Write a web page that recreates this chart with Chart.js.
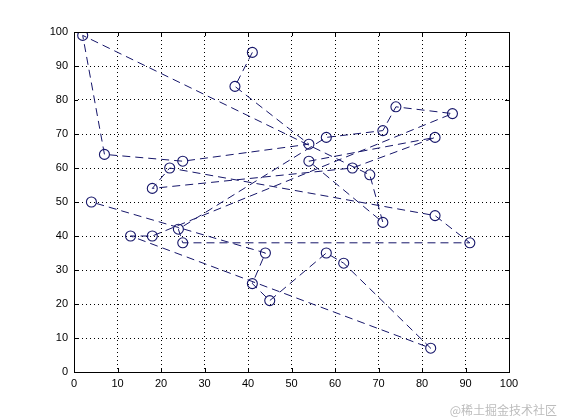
<!DOCTYPE html>
<html>
<head>
<meta charset="utf-8">
<script src="https://cdn.jsdelivr.net/npm/chart.js"></script>
<style>
  html, body { margin: 0; padding: 0; background: #fff; }
  #wrap { width: 561px; height: 420px; }
</style>
</head>
<body>
<div id="wrap"><canvas id="routeChart" width="561" height="420"></canvas></div>
<script>
// city coordinates, plotted in visiting order
const cityX = [41, 37, 54, 25, 7, 2, 68, 71, 54, 83, 64, 18, 22, 83, 91, 25, 24, 58, 71, 74, 87, 18, 13, 82, 62, 58, 45, 41, 44, 4];
const cityY = [94, 84, 67, 62, 64, 99, 58, 44, 62, 69, 60, 54, 60, 46, 38, 38, 42, 69, 71, 78, 76, 40, 40, 7, 32, 35, 21, 26, 35, 50];
const xTicks = [0, 10, 20, 30, 40, 50, 60, 70, 80, 90, 100];
const yTicks = [0, 10, 20, 30, 40, 50, 60, 70, 80, 90, 100];
const watermark = '@稀土掘金技术社区';

const lineColor = '#16166a';

// box + inward ticks like matlab axes, plus watermark
const axesBox = {
    id: 'axesBox',
    afterDraw(chart) {
        const ctx = chart.ctx;
        const a = chart.chartArea;
        const xs = chart.scales.x, ys = chart.scales.y;
        ctx.save();
        ctx.strokeStyle = '#000';
        ctx.lineWidth = 1;
        ctx.beginPath();
        xTicks.forEach(v => {
            const px = Math.round(xs.getPixelForValue(v)) + 0.5;
            ctx.moveTo(px, a.bottom); ctx.lineTo(px, a.bottom - 4);
            ctx.moveTo(px, a.top); ctx.lineTo(px, a.top + 4);
        });
        yTicks.forEach(v => {
            const py = Math.round(ys.getPixelForValue(v)) + 0.5;
            ctx.moveTo(a.left, py); ctx.lineTo(a.left + 4, py);
            ctx.moveTo(a.right, py); ctx.lineTo(a.right - 4, py);
        });
        ctx.stroke();
        ctx.strokeRect(Math.round(a.left) + 0.5, Math.round(a.top) + 0.5,
            Math.round(a.right - a.left), Math.round(a.bottom - a.top));
        ctx.fillStyle = '#bcbcbc';
        ctx.font = '12px "Noto Sans CJK SC"';
        ctx.textAlign = 'right';
        ctx.textBaseline = 'middle';
        ctx.fillText(watermark, 557, 410);
        ctx.restore();
    }
};

const ctx = document.getElementById('routeChart').getContext('2d');
new Chart(ctx, {
    type: 'scatter',
    data: {
        datasets: [{
            data: cityX.map((x, i) => ({ x: x, y: cityY[i] })),
            showLine: true,
            borderColor: lineColor,
            borderWidth: 1,
            borderDash: [8, 5],
            pointStyle: 'circle',
            pointRadius: 5,
            pointBorderWidth: 1.1,
            pointBorderColor: lineColor,
            pointBackgroundColor: 'rgba(0,0,0,0)',
            tension: 0
        }]
    },
    options: {
        responsive: false,
        animation: false,
        layout: { padding: { left: 0, right: 52, top: 32, bottom: 0 } },
        plugins: {
            legend: { display: false },
            tooltip: { enabled: false }
        },
        scales: {
            x: {
                type: 'linear',
                min: 0, max: 100,
                afterBuildTicks: s => { s.ticks = xTicks.map(v => ({ value: v })); },
                afterFit: s => { s.height = 48; },
                grid: { color: '#000', lineWidth: 1, drawTicks: false },
                border: { display: false, dash: [1, 3] },
                ticks: { color: '#000', padding: 5, font: { family: 'Liberation Sans, Arial', size: 11 }, maxRotation: 0 }
            },
            y: {
                type: 'linear',
                min: 0, max: 100,
                afterBuildTicks: s => { s.ticks = yTicks.map(v => ({ value: v })); },
                afterFit: s => { s.width = 74; },
                grid: { color: '#000', lineWidth: 1, drawTicks: false },
                border: { display: false, dash: [1, 3] },
                ticks: { color: '#000', padding: 6, font: { family: 'Liberation Sans, Arial', size: 11 } }
            }
        }
    },
    plugins: [axesBox]
});
</script>
</body>
</html>
